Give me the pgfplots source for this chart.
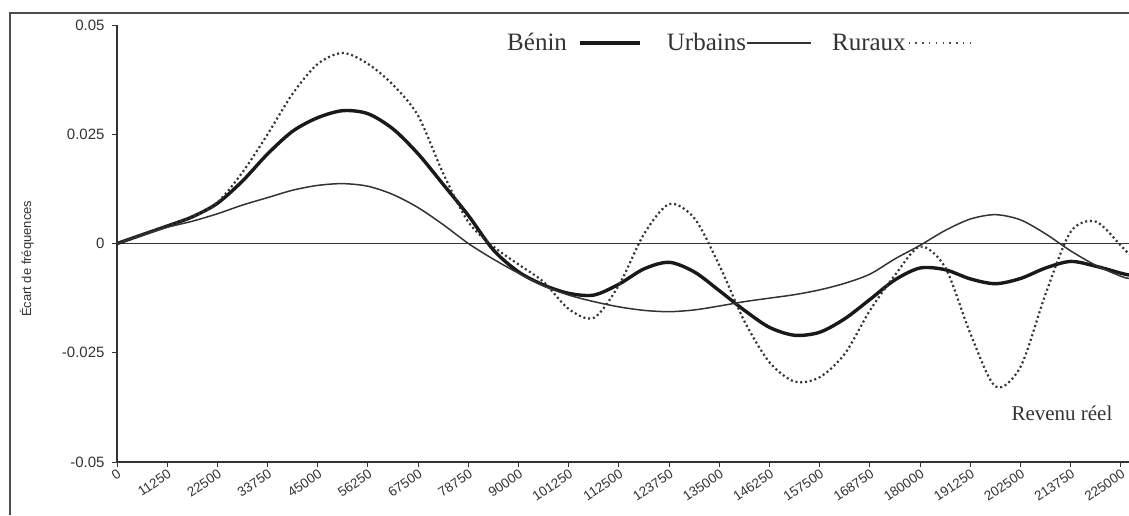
\documentclass[border=0pt]{standalone}
\usepackage{pgfplots}
\pgfplotsset{compat=1.18}
\usepackage{pgfplotstable}
\usepackage{fontspec}
\setmainfont{Liberation Sans}
\newfontfamily\serifleg{Liberation Serif}

% values, every 5625
\pgfplotstableread{
x y
0 0
5625 0.0020
11250 0.0040
16875 0.0061
22500 0.0092
28125 0.0143
33750 0.0205
39375 0.0257
45000 0.0288
50625 0.0304
56250 0.0297
61875 0.0262
67500 0.0205
73125 0.0135
78750 0.0064
84375 -0.0015
90000 -0.0065
95625 -0.0095
101250 -0.0114
106875 -0.0118
112500 -0.0093
118125 -0.0058
123750 -0.0043
129375 -0.0065
135000 -0.0108
140625 -0.0153
146250 -0.0192
151875 -0.0210
157500 -0.0203
163125 -0.0172
168750 -0.0128
174375 -0.0083
180000 -0.0056
185625 -0.0060
191250 -0.0081
196875 -0.0092
202500 -0.0080
208125 -0.0056
213750 -0.0041
219375 -0.0052
225000 -0.0068
226800 -0.0072
}\benin

\pgfplotstableread{
x y
0 0
5625 0.0019
11250 0.0037
16875 0.0051
22500 0.0068
28125 0.0088
33750 0.0105
39375 0.0122
45000 0.0133
50625 0.0137
56250 0.0131
61875 0.0112
67500 0.0082
73125 0.0043
78750 0.0000
84375 -0.0036
90000 -0.0068
95625 -0.0097
101250 -0.0118
106875 -0.0133
112500 -0.0145
118125 -0.0153
123750 -0.0156
129375 -0.0152
135000 -0.0143
140625 -0.0133
146250 -0.0125
151875 -0.0117
157500 -0.0106
163125 -0.0091
168750 -0.0070
174375 -0.0035
180000 -0.0004
185625 0.0030
191250 0.0056
196875 0.0066
202500 0.0054
208125 0.0022
213750 -0.0017
219375 -0.0050
225000 -0.0075
226800 -0.0080
}\urbains

\pgfplotstableread{
x y
0 0
5625 0.0020
11250 0.0040
16875 0.0061
22500 0.0094
28125 0.0163
33750 0.0250
39375 0.0343
45000 0.0411
50625 0.0436
56250 0.0411
61875 0.0363
67500 0.0292
73125 0.0160
78750 0.0049
84375 -0.0007
90000 -0.0048
95625 -0.0088
101250 -0.0150
106875 -0.0170
112500 -0.0095
118125 0.0022
123750 0.0090
129375 0.0058
135000 -0.0050
140625 -0.0178
146250 -0.0272
151875 -0.0316
157500 -0.0306
163125 -0.0252
168750 -0.0153
174375 -0.0072
180000 -0.0007
185625 -0.0055
191250 -0.0206
196875 -0.0327
202500 -0.0282
208125 -0.0115
213750 0.0027
219375 0.0050
225000 -0.0005
226800 -0.0025
}\ruraux

\begin{document}
\begin{tikzpicture}
\path[use as bounding box] (0pt,0pt) rectangle (1129pt,-515pt);
\draw[black!70, line width=1.3pt] (10pt,-515pt) -- (10pt,-13pt) -- (1129pt,-13pt);

\begin{axis}[
  at={(117pt,-462pt)}, anchor=south west,
  width=1012pt, height=437pt, scale only axis,
  xmin=0, xmax=226800, ymin=-0.05, ymax=0.05,
  axis x line=bottom, axis y line=left,
  axis line style={-, black!80, line width=1.1pt},
  tick align=outside, major tick length=5pt,
  tick style={black!80, line width=1pt},
  scaled x ticks=false, scaled y ticks=false,
  xtick={0,11250,22500,33750,45000,56250,67500,78750,90000,101250,112500,123750,135000,146250,157500,168750,180000,191250,202500,213750,225000},
  xticklabels={0,11250,22500,33750,45000,56250,67500,78750,90000,101250,112500,123750,135000,146250,157500,168750,180000,191250,202500,213750,225000},
  ytick={-0.05,-0.025,0,0.025,0.05},
  yticklabels={-0.05,-0.025,0,0.025,0.05},
  xticklabel style={rotate=34, anchor=north east, font=\fontsize{13.5}{13.5}\selectfont, text=black!80, inner sep=1pt},
  yticklabel style={font=\fontsize{15}{15}\selectfont, text=black!80, xshift=-4pt},
  ylabel={Écart de fréquences},
  ylabel style={at={(axis description cs:-0.089,0.465)}, anchor=center, font=\fontsize{13}{13}\selectfont, text=black!80},
  legend columns=-1,
  legend plot pos=right,
  legend style={at={(0.3854,0.9588)}, anchor=west, draw=none, fill=none, inner sep=0pt,
    font=\serifleg\fontsize{25}{25}\selectfont, text=black!80, nodes={inner sep=0pt}},
]

\addplot[black!80, line width=1.2pt, forget plot] coordinates {(0,0) (226800,0)};

\addplot[black!90, line width=3.4pt, smooth,
  legend image code/.code={\path[draw=none] (0pt,0pt) -- (100pt,0pt); \draw[black!90, line width=3.4pt, solid] (13pt,0pt) -- (73pt,0pt);}]
  table {\benin};
\addlegendentry{Bénin}

\addplot[black!80, line width=1.5pt, smooth,
  legend image code/.code={\path[draw=none] (0pt,0pt) -- (86pt,0pt); \draw[black!80, line width=1.5pt, solid] (1pt,0pt) -- (65pt,0pt);}]
  table {\urbains};
\addlegendentry{Urbains}

\addplot[black!80, line width=2.2pt, smooth, dash pattern=on 2pt off 2.8pt,
  legend image code/.code={\path[draw=none] (0pt,0pt) -- (66pt,0pt); \draw[black!70, line width=1.3pt, dash pattern=on 1.3pt off 5.5pt] (3pt,0pt) -- (66pt,0pt);}]
  table {\ruraux};
\addlegendentry{Ruraux}

\node[font=\serifleg\fontsize{21}{21}\selectfont, text=black!80] at (axis cs:211775,-0.0389) {Revenu réel};
\end{axis}
\end{tikzpicture}
\end{document}
